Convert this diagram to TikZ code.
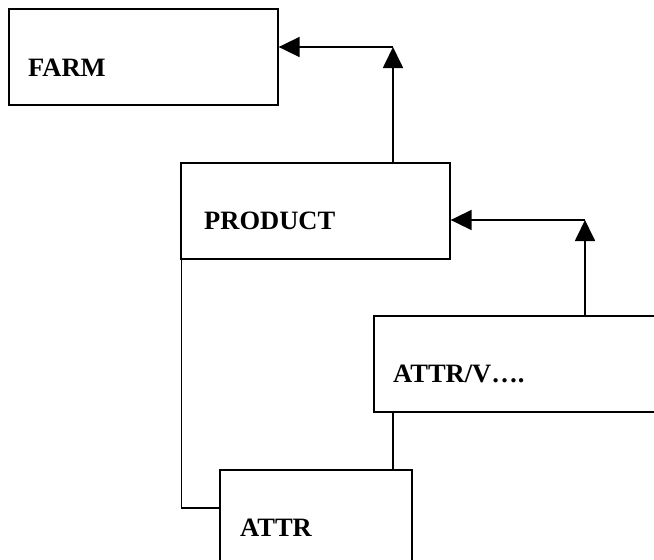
\documentclass[tikz,border=0pt]{standalone}
\usepackage{fontspec}
\setmainfont{Liberation Serif}
\usetikzlibrary{arrows.meta}
\begin{document}
\begin{tikzpicture}[x=1pt,y=-1pt,
  box/.style={draw=black, line width=1.3pt, fill=white, inner sep=0pt},
  lbl/.style={anchor=base west, inner sep=0pt, font=\fontsize{26.5}{30}\selectfont\bfseries},
  conn/.style={draw=black, line width=1.8pt},
  arr/.style={conn, -{Triangle[length=21pt, width=20pt]}}]
\useasboundingbox (0,0) rectangle (654,560);
\clip (0,0) rectangle (654,560);
% boxes
\node[box, minimum width=269pt, minimum height=96pt] (farm) at (143.5,57) {};
\node[box, minimum width=269pt, minimum height=96pt] (product) at (315.5,211) {};
\node[box, minimum width=300pt, minimum height=96pt] (attrv) at (524,364) {};
\node[box, minimum width=192pt, minimum height=100pt] (attr) at (316,520) {};
% labels
\node[lbl] (tfarm) at (28,76) {FARM};
\node[lbl] (tproduct) at (204,229) {PRODUCT};
\node[lbl] (tattrv) at (393,382) {ATTR/V\ldots.};
\node[lbl] (tattr) at (240,536) {ATTR};
% connector points
\coordinate (c1) at (393,47);
\coordinate (c2) at (585,220);
\coordinate (c3) at (181.5,508);
\coordinate (c4) at (393,412);
% connectors
\draw[arr] (product.north -| c1) -- (c1);
\draw[arr] (c1) -- (c1 -| farm.east);
\draw[arr] (attrv.north -| c2) -- (c2);
\draw[arr] (c2) -- (c2 -| product.east);
\draw[conn] (product.south -| c3) -- (c3) -- (c3 -| attr.west);
\draw[conn] (c4) -- (attr.north -| c4);
\end{tikzpicture}
\end{document}
